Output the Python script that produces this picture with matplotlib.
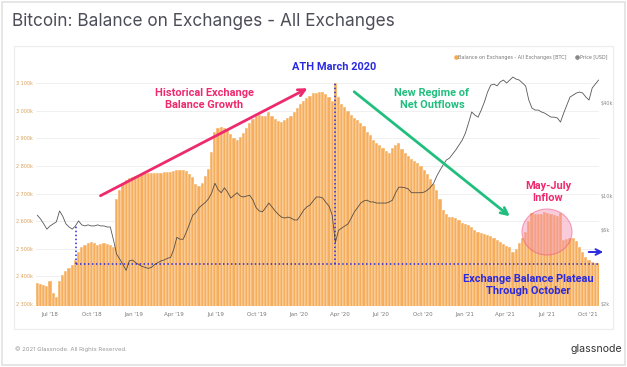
import numpy as np
import pandas as pd
import matplotlib.pyplot as plt
from matplotlib.patches import Rectangle, Ellipse
from matplotlib.lines import Line2D
from matplotlib.ticker import FixedLocator, FuncFormatter, NullLocator

# weekly samples, Jun 2018 - Oct 2021
dates = pd.date_range("2018-06-03", periods=178, freq="7D")

# balance on exchanges, thousands of BTC
balance_k = [
    2375, 2372, 2368, 2365, 2385, 2340, 2325, 2385, 2405, 2418,
    2430, 2442, 2460, 2490, 2505, 2515, 2520, 2525, 2520, 2515,
    2518, 2520, 2518, 2515, 2505, 2680, 2712, 2735, 2748, 2758,
    2762, 2765, 2767, 2770, 2773, 2775, 2776, 2775, 2775, 2776,
    2777, 2778, 2780, 2783, 2785, 2786, 2785, 2782, 2770, 2760,
    2735, 2728, 2740, 2765, 2790, 2850, 2925, 2938, 2942, 2936,
    2930, 2915, 2900, 2894, 2905, 2920, 2938, 2955, 2972, 2980,
    2985, 2983, 2980, 2995, 2980, 2970, 2962, 2960, 2968, 2974,
    2980, 2995, 3010, 3025, 3035, 3046, 3055, 3064, 3066, 3068,
    3068, 3060, 3050, 3035, 3100, 3050, 3025, 3014, 3000, 2985,
    2975, 2967, 2955, 2945, 2925, 2912, 2895, 2885, 2875, 2865,
    2855, 2847, 2865, 2875, 2883, 2860, 2847, 2835, 2825, 2818,
    2811, 2800, 2785, 2770, 2752, 2735, 2713, 2680, 2640, 2625,
    2617, 2615, 2610, 2605, 2595, 2590, 2587, 2580, 2568, 2562,
    2558, 2554, 2550, 2545, 2539, 2532, 2525, 2518, 2510, 2507,
    2490, 2500, 2521, 2540, 2562, 2600, 2630, 2628, 2625, 2625,
    2634, 2630, 2625, 2622, 2620, 2630, 2532, 2535, 2538, 2540,
    2530, 2507, 2490, 2470, 2458, 2452, 2450, 2448,
]

# BTC price, thousands of USD
price_k = [
    7.5, 7.1, 6.6, 6.1, 6.4, 6.6, 6.8, 8.0, 7.4, 6.6,
    6.3, 6.1, 6.4, 6.9, 6.5, 6.4, 6.5, 6.4, 6.4, 6.5,
    6.4, 6.4, 6.3, 6.3, 5.2, 4.2, 3.9, 3.6, 3.3, 3.8,
    3.85, 3.7, 3.6, 3.5, 3.45, 3.4, 3.45, 3.6, 3.7, 3.8,
    3.85, 3.95, 4.0, 4.5, 5.4, 5.25, 5.25, 5.85, 6.6, 7.5,
    7.8, 8.4, 8.75, 9.1, 9.6, 10.5, 12.1, 11.0, 10.5, 11.3,
    10.6, 9.7, 10.1, 10.5, 10.0, 9.85, 10.0, 10.1, 9.4, 8.4,
    8.0, 7.9, 8.4, 9.0, 8.5, 8.0, 7.6, 7.3, 7.2, 7.3,
    7.2, 7.0, 7.0, 7.5, 8.1, 8.5, 8.75, 9.3, 9.85, 9.85,
    9.7, 9.1, 8.6, 7.5, 5.0, 6.0, 6.2, 6.4, 6.6, 7.2,
    7.9, 8.4, 9.0, 9.3, 9.4, 9.15, 9.15, 9.0, 9.0, 9.0,
    9.0, 9.15, 9.4, 10.5, 11.4, 11.4, 11.3, 11.1, 10.5, 10.5,
    10.5, 10.5, 10.6, 10.9, 11.4, 12.1, 13.5, 14.7, 15.9, 17.1,
    17.6, 18.7, 19.9, 21.4, 23.0, 25.5, 29.7, 35.0, 33.4, 32.4,
    36.0, 40.6, 47.1, 52.2, 53.0, 51.6, 54.8, 56.3, 53.9, 56.3,
    58.9, 57.1, 56.3, 53.9, 51.6, 41.8, 37.1, 36.0, 36.0, 35.0,
    34.4, 33.4, 32.4, 32.4, 32.0, 30.1, 34.4, 38.8, 43.7, 45.0,
    46.4, 47.1, 46.4, 43.7, 41.8, 50.0, 53.0, 56.3,
]

balance_ticks = [2300, 2400, 2500, 2600, 2700, 2800, 2900, 3000, 3100]
price_ticks = [2000, 6000, 10000, 40000]
price_tick_labels = ["$2k", "$6k", "$10k", "$40k"]
month_ticks = pd.date_range("2018-07-01", "2021-10-01", freq="3MS")

plateau_k = 2445
plateau_start = pd.Timestamp("2018-08-27")
plateau_top_k = 2586
ath_date = dates[94]
ath_top_k = 3104

ORANGE = "#F6AE5C"
PINK = "#EE2A6E"
GREEN = "#22BE7E"
BLUE = "#2A2AE0"


def fx(x):
    return x / 627


def fy(y):
    return 1 - y / 367


fig = plt.figure(figsize=(6.27, 3.67), dpi=100)
fig.patch.set_facecolor("white")

# card + panel frames
fig.patches.append(Rectangle((fx(1.5), fy(365)), fx(623), 363 / 367, transform=fig.transFigure,
                             fill=False, edgecolor="#e2e2e2", linewidth=1.2))
fig.patches.append(Rectangle((fx(14), fy(329)), fx(599), 283 / 367, transform=fig.transFigure,
                             fill=False, edgecolor="#ececec", linewidth=0.8))

fig.text(fx(12), fy(21), "Bitcoin: Balance on Exchanges - All Exchanges", fontsize=12.4,
         family="Inter", color="#4d4d58", va="center", ha="left")
fig.text(fx(15), fy(349), "\u00a9 2021 Glassnode. All Rights Reserved.", fontsize=4.3,
         family="Inter", color="#9a9a9a", va="center", ha="left")
fig.text(fx(622), fy(349), "glassnode", fontsize=7.6, family="Inter", color="#333333",
         va="center", ha="right")

ax = fig.add_axes([fx(36), fy(306), (599 - 36) / 627, (306 - 57) / 367])
ax.bar(dates, balance_k, width=7, color=ORANGE, edgecolor="white", linewidth=0.3, zorder=2)
ax.set_ylim(2293, 3195)
ax.set_xlim(pd.Timestamp("2018-05-31"), pd.Timestamp("2021-10-25"))
ax.yaxis.set_major_locator(FixedLocator(balance_ticks))
ax.yaxis.set_major_formatter(FuncFormatter(lambda v, p: f"{int(v) // 1000} {int(v) % 1000:03d}k"))
ax.grid(axis="y", color="#eeeeee", linewidth=0.6, zorder=0)
ax.set_axisbelow(True)
ax.set_xticks(month_ticks)
ax.set_xticklabels([d.strftime("%b '%y") for d in month_ticks])
ax.tick_params(axis="y", length=0, pad=2, labelsize=3.5, labelcolor="#d9a15a")
ax.tick_params(axis="x", length=0, pad=4, labelsize=4.0, labelcolor="#777777")
for s in ax.spines.values():
    s.set_visible(False)

# dotted guide lines
ax.plot([plateau_start, dates[-1] + pd.Timedelta(days=3)], [plateau_k, plateau_k],
        color=BLUE, linestyle=(0, (1, 1.6)), linewidth=1.1, zorder=5)
ax.plot([plateau_start, plateau_start], [plateau_k, plateau_top_k],
        color=BLUE, linestyle=(0, (1, 1.6)), linewidth=1.1, zorder=5)
ax.plot([ath_date, ath_date], [plateau_k, ath_top_k],
        color=BLUE, linestyle=(0, (1, 1.6)), linewidth=1.1, zorder=5)

ax2 = ax.twinx()
ax2.plot(dates, np.array(price_k) * 1000, color="#3a3a3a", linewidth=0.6, alpha=0.85)
ax2.set_yscale("log")
ax2.set_ylim(1940, 79400)
ax2.yaxis.set_major_locator(FixedLocator(price_ticks))
ax2.yaxis.set_minor_locator(NullLocator())
ax2.set_yticklabels(price_tick_labels)
ax2.tick_params(axis="y", length=0, pad=1, labelsize=3.6, labelcolor="#888888")
for s in ax2.spines.values():
    s.set_visible(False)

legend_handles = [
    Line2D([], [], marker="o", linestyle="", color="#F7A94B", markersize=2.3),
    Line2D([], [], marker="o", linestyle="", color="#888888", markersize=2.3),
]
fig.legend(legend_handles, ["Balance on Exchanges - All Exchanges [BTC]", "Price [USD]"],
           loc="center right", bbox_to_anchor=(fx(612), fy(57)), ncol=2, frameon=False,
           fontsize=3.5, handlelength=0.6, handletextpad=0.3, columnspacing=1.8,
           labelcolor="#777777")

# annotations
bold = dict(family="Roboto", fontweight="bold", fontsize=7.9, ha="center", va="center",
            linespacing=1.15)
fig.text(fx(204), fy(99), "Historical Exchange\nBalance Growth", color=PINK, **bold)
fig.text(fx(334), fy(67), "ATH March 2020", color=BLUE, **bold)
fig.text(fx(432), fy(99), "New Regime of\nNet Outflows", color=GREEN, **bold)
fig.text(fx(548), fy(192), "May-July\nInflow", color=PINK, **bold)
fig.text(fx(528), fy(285), "Exchange Balance Plateau\nThrough October", color=BLUE, **bold)

ax2.annotate("", xy=(fx(310), fy(87)), xytext=(fx(98), fy(197)), xycoords="figure fraction",
             arrowprops=dict(arrowstyle="->", color=PINK, lw=2, mutation_scale=12))
ax2.annotate("", xy=(fx(512), fy(218)), xytext=(fx(352), fy(90)), xycoords="figure fraction",
             arrowprops=dict(arrowstyle="->", color=GREEN, lw=2, mutation_scale=12))
ax2.annotate("", xy=(fx(606), fy(252)), xytext=(fx(586), fy(252)), xycoords="figure fraction",
             arrowprops=dict(arrowstyle="->", color=BLUE, lw=1.4, mutation_scale=10))

fig.patches.append(Ellipse((fx(547), fy(232)), fx(50), 46 / 367, transform=fig.transFigure,
                           facecolor="#F48FB1", alpha=0.45, edgecolor="#EC407A", linewidth=0.8,
                           zorder=6))

fig.savefig("out.png", dpi=100)
